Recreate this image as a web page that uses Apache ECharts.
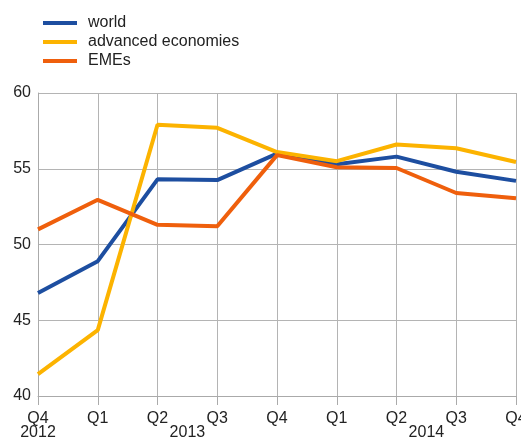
<!DOCTYPE html>
<html>
<head>
<meta charset="utf-8">
<script src="https://cdn.jsdelivr.net/npm/echarts@6/dist/echarts.min.js"></script>
<style>
html,body{margin:0;padding:0;background:#fff;}
#chart{width:521px;height:438px;}
</style>
</head>
<body>
<div id="chart"></div>
<script>
var quarters = ['Q4\n2012', 'Q1', 'Q2', 'Q3', 'Q4', 'Q1', 'Q2', 'Q3', 'Q4'];
var yearLabels = ['', '', '\n2013', '', '', '', '\n2014', ''];
var world = [46.8, 48.9, 54.3, 54.25, 56.0, 55.3, 55.8, 54.8, 54.2];
var advanced = [41.45, 44.35, 57.9, 57.7, 56.1, 55.5, 56.6, 56.35, 55.45];
var emes = [51.0, 52.95, 51.3, 51.2, 55.9, 55.1, 55.05, 53.4, 53.05];

var FONT = 'Liberation Sans, Arial, sans-serif';
var TXT = '#222';
var chart = echarts.init(document.getElementById('chart'), null, {renderer: 'canvas'});
chart.setOption({
  animation: false,
  backgroundColor: '#fff',
  legend: {
    orient: 'vertical',
    left: 38,
    top: 10,
    icon: 'rect',
    itemWidth: 34,
    itemHeight: 4,
    itemGap: 3,
    textStyle: {fontFamily: FONT, fontSize: 16, lineHeight: 16, color: TXT, padding: [0, 0, 0, 6]},
    data: ['world', 'advanced economies', 'EMEs']
  },
  grid: {left: 38, right: 5, top: 93, bottom: 42, containLabel: false, outerBoundsMode: 'none'},
  xAxis: [{
    type: 'category',
    data: quarters,
    boundaryGap: false,
    axisLine: {lineStyle: {color: '#aaaaaa', width: 1}},
    axisTick: {show: true, length: 9, lineStyle: {color: '#aaaaaa'}},
    axisLabel: {interval: 0, margin: 16, fontFamily: FONT, fontSize: 16, lineHeight: 14, color: TXT},
    splitLine: {show: true, lineStyle: {color: '#b4b4b4', width: 1}}
  }, {
    type: 'category',
    data: yearLabels,
    position: 'bottom',
    boundaryGap: true,
    axisLine: {show: false},
    axisTick: {show: false},
    axisLabel: {interval: 0, margin: 16, fontFamily: FONT, fontSize: 16, lineHeight: 14, color: TXT},
    splitLine: {show: false}
  }],
  yAxis: {
    type: 'value',
    min: 40,
    max: 60,
    interval: 5,
    axisLine: {show: true, lineStyle: {color: '#aaaaaa', width: 1}},
    axisTick: {show: false},
    axisLabel: {margin: 7, fontFamily: FONT, fontSize: 16, color: TXT},
    splitLine: {show: true, lineStyle: {color: '#b4b4b4', width: 1}}
  },
  series: [
    {name: 'world', type: 'line', data: world, showSymbol: false, symbol: 'none',
     lineStyle: {width: 4, color: '#1d4ea0'}, itemStyle: {color: '#1d4ea0'}},
    {name: 'advanced economies', type: 'line', data: advanced, showSymbol: false, symbol: 'none',
     lineStyle: {width: 4, color: '#fcb300'}, itemStyle: {color: '#fcb300'}},
    {name: 'EMEs', type: 'line', data: emes, showSymbol: false, symbol: 'none',
     lineStyle: {width: 4, color: '#ef5f0c'}, itemStyle: {color: '#ef5f0c'}}
  ]
});
</script>
</body>
</html>
